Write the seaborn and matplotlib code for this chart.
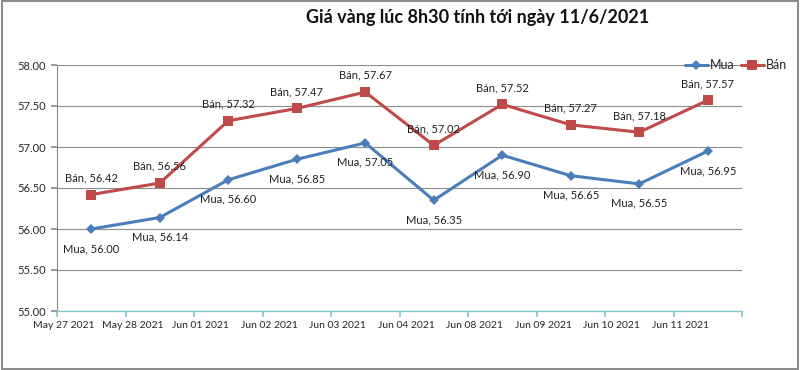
import matplotlib
matplotlib.use("Agg")
import matplotlib.pyplot as plt
import seaborn as sns
import pandas as pd
from matplotlib.patches import Rectangle

dates = ["May 27 2021", "May 28 2021", "Jun 01 2021", "Jun 02 2021", "Jun 03 2021",
         "Jun 04 2021", "Jun 08 2021", "Jun 09 2021", "Jun 10 2021", "Jun 11 2021"]
mua = [56.00, 56.14, 56.60, 56.85, 57.05, 56.35, 56.90, 56.65, 56.55, 56.95]
ban = [56.42, 56.56, 57.32, 57.47, 57.67, 57.02, 57.52, 57.27, 57.18, 57.57]
yticks = [55.0, 55.5, 56.0, 56.5, 57.0, 57.5, 58.0]
title = "Giá vàng lúc 8h30 tính tới ngày 11/6/2021"

sns.set_theme(style="white")
plt.rcParams['font.family'] = ['Lato', 'DejaVu Sans']

idx = list(range(len(dates)))
df = pd.DataFrame({
    "x": idx + idx,
    "y": mua + ban,
    "series": ["Mua"] * len(mua) + ["Bán"] * len(ban),
})

blue = "#4A7EBB"
red = "#BE4B48"

fig = plt.figure(figsize=(8, 3.7), dpi=100)
ax = fig.add_axes([57/800, 1 - 311/370, (742 - 57)/800, (311 - 65)/370])

sns.lineplot(data=df, x="x", y="y", hue="series", style="series",
             palette={"Mua": blue, "Bán": red},
             markers={"Mua": "D", "Bán": "s"}, dashes=False,
             markersize=6.5, linewidth=2.2, markeredgewidth=0,
             ax=ax, legend=True)
for line in ax.get_lines():
    if line.get_marker() == "D":
        line.set_markersize(5)

ax.set_xlim(-0.5, 9.5)
ax.set_ylim(55.0, 58.0)
ax.set_yticks(yticks)
ax.set_yticklabels([f"{v:.2f}" for v in yticks], fontsize=8)
ax.yaxis.grid(True, color="#8c8c8c", linewidth=0.8)
ax.set_axisbelow(True)
ax.set_xlabel("")
ax.set_ylabel("")

ax.set_xticks([i - 0.5 for i in range(len(dates) + 1)])
ax.set_xticklabels([""] * (len(dates) + 1))
ax.set_xticks([i - 0.4 for i in range(len(dates))], minor=True)
ax.set_xticklabels(dates, minor=True, fontsize=7.5)
ax.tick_params(axis="x", which="major", length=4, color="#86c5d0", direction="out", bottom=True)
ax.tick_params(axis="x", which="minor", length=0, pad=7, bottom=True)
ax.tick_params(axis="y", length=4, color="#8c8c8c", left=True, pad=4)

for s in ["top", "right"]:
    ax.spines[s].set_visible(False)
ax.spines["left"].set_color("#8c8c8c")
ax.spines["left"].set_linewidth(0.8)
ax.spines["bottom"].set_color("#86c5d0")
ax.spines["bottom"].set_linewidth(1.0)

for i, v in enumerate(mua):
    ax.annotate(f"Mua, {v:.2f}", (i, v), xytext=(0, -14), textcoords="offset points",
                ha="center", va="center", fontsize=8, color="#222222")
for i, v in enumerate(ban):
    ax.annotate(f"Bán, {v:.2f}", (i, v), xytext=(0, 12), textcoords="offset points",
                ha="center", va="center", fontsize=8, color="#222222")

handles, labels = ax.get_legend_handles_labels()
ax.legend(handles, labels, loc="center right", bbox_to_anchor=(793/800, 1 - 65/370),
          bbox_transform=fig.transFigure, ncol=2, frameon=False, fontsize=9,
          handlelength=1.9, handletextpad=0.1, columnspacing=0.5, borderpad=0)

fig.text(478/800, 1 - 17/370, title, ha="center", va="center",
         fontsize=13, fontweight="bold", color="#111111")

fig.patches.append(Rectangle((0.002, 0.003), 0.996, 0.994, transform=fig.transFigure,
                             fill=False, edgecolor="#8c8c8c", linewidth=1.5))

fig.savefig("out.png", dpi=100)
